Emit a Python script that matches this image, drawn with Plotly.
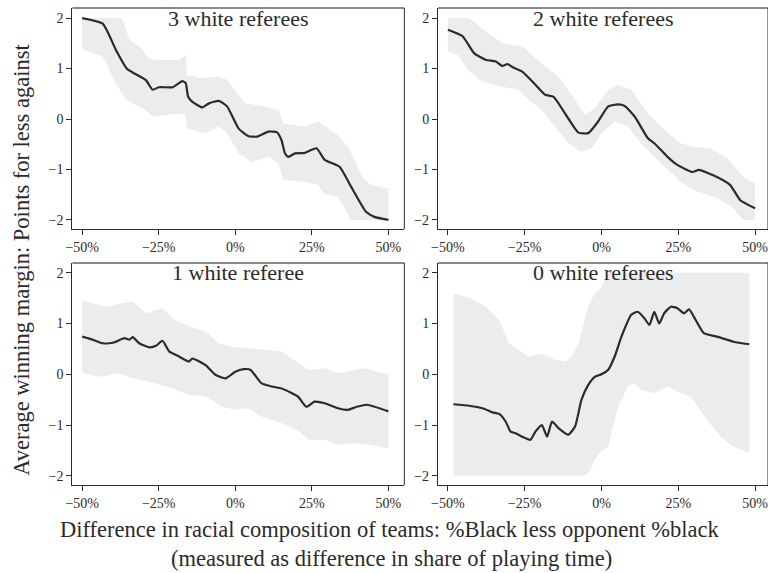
import plotly.graph_objects as go

# ---------------- data ----------------
panel_titles = ["3 white referees", "2 white referees", "1 white referee", "0 white referees"]
x_ticks = [-50, -25, 0, 25, 50]
y_ticks = [-2, -1, 0, 1, 2]

# 3 white referees
w3_x = [-50, -43.3, -39, -35.3, -29.2, -27, -25, -20.5, -17.3, -16.2, -15.4, -14, -10.8, -8.6, -5.4, -2.7,
        1.1, 4.3, 7, 10.8, 13.5, 15.1, 16.2, 17.3, 19.5, 22.7, 26.5, 29.2, 34.1, 37.8, 42.7, 45.4, 50]
w3_y = [2.0, 1.89, 1.37, 0.99, 0.77, 0.58, 0.63, 0.63, 0.75, 0.71, 0.44, 0.34, 0.23, 0.31, 0.36, 0.25,
        -0.19, -0.34, -0.35, -0.25, -0.26, -0.42, -0.68, -0.75, -0.68, -0.67, -0.58, -0.81, -0.95, -1.34, -1.84, -1.94, -2.0]
w3_up_x = [-50, -37, -34.6, -31.4, -28.1, -25.9, -18.4, -16.2, -15.7, -11.4, -5.4, -2.7, 3.2, 9.7, 14.1, 15.7,
           22.7, 27, 33.5, 36.8, 41.6, 44.3, 50]
w3_up_y = [2.0, 2.0, 1.57, 1.44, 1.2, 1.17, 1.17, 1.27, 0.87, 0.81, 0.84, 0.78, 0.31, 0.25, 0.18, -0.09,
           -0.15, -0.05, -0.32, -0.55, -1.15, -1.31, -1.38]
w3_lo_x = [-50, -43.3, -39, -35.7, -29.2, -27, -18.4, -16.2, -15.7, -9.7, -5.4, -2.7, 1.1, 5.4, 10.8, 14.1,
           15.7, 22.7, 27, 29.2, 33.5, 37.8, 50]
w3_lo_y = [1.38, 1.24, 0.71, 0.38, 0.18, 0.05, 0.11, 0.08, -0.19, -0.28, -0.15, -0.28, -0.68, -0.85, -0.75, -0.88,
           -1.21, -1.25, -1.31, -1.48, -1.54, -2.0, -2.0]

# 2 white referees
w2_x = [-50, -45.2, -41.4, -37.6, -34.4, -32.3, -30.6, -29, -25.8, -21.5, -18.3, -15.6, -10.8, -7.5, -4.3, -1.1,
        2.2, 5.4, 7.5, 10.8, 15.1, 17.2, 21.5, 24.7, 29.6, 31.7, 37.6, 41.9, 45.2, 50]
w2_y = [1.77, 1.64, 1.30, 1.17, 1.14, 1.05, 1.09, 1.03, 0.94, 0.68, 0.48, 0.44, 0.01, -0.27, -0.28, -0.05,
        0.25, 0.29, 0.26, 0.05, -0.38, -0.48, -0.75, -0.91, -1.05, -1.01, -1.15, -1.31, -1.61, -1.77]
w2_up_x = [-50, -43, -39.8, -36.6, -32.3, -25.8, -21.5, -18.3, -14, -8.6, -5.4, -2.2, 2.2, 5.4, 9.7, 15.1,
           20.4, 25.8, 30.1, 35.5, 40.9, 46.2, 50]
w2_up_y = [2.0, 2.0, 1.84, 1.7, 1.5, 1.44, 1.21, 1.04, 0.84, 0.38, 0.08, 0.21, 0.58, 0.68, 0.58, 0.11,
           -0.22, -0.48, -0.55, -0.58, -0.78, -1.15, -1.28]
w2_lo_x = [-50, -46.8, -43, -38.7, -32.3, -26.9, -23.7, -19.4, -15.1, -10.8, -6.5, -3.2, 0, 4.3, 8.6, 12.9,
           17.2, 21.5, 25.8, 30.1, 36.6, 41.9, 46.2, 50]
w2_lo_y = [1.34, 1.27, 0.94, 0.74, 0.64, 0.58, 0.38, 0.18, -0.15, -0.48, -0.65, -0.58, -0.28, -0.05, -0.15, -0.48,
           -0.75, -1.01, -1.25, -1.41, -1.54, -1.71, -2.0, -2.0]

# 1 white referee
w1_x = [-50, -46.5, -43.3, -40, -36.2, -34.6, -33.5, -31.4, -28.1, -25.9, -23.8, -21.6, -18.4, -15.1, -14,
        -9.7, -6.5, -3.2, 0, 2.7, 4.9, 8.6, 11.9, 15.1, 18.4, 20.5, 23.2, 25.9, 29.2, 33.5, 36.8, 39.7, 43, 50]
w1_y = [0.74, 0.68, 0.61, 0.62, 0.71, 0.68, 0.73, 0.61, 0.53, 0.56, 0.66, 0.45, 0.35, 0.25, 0.31,
        0.18, -0.01, -0.08, 0.05, 0.10, 0.09, -0.18, -0.24, -0.28, -0.37, -0.44, -0.64, -0.54, -0.57, -0.67, -0.70, -0.64, -0.60, -0.73]
w1_up_x = [-50, -42.2, -36.8, -33.5, -29.2, -23.8, -20.5, -15.1, -9.7, -5.4, -1.1, 4.3, 9.7, 15.1, 20.5, 23.8,
           29.2, 33.5, 42.2, 50]
w1_up_y = [1.45, 1.33, 1.40, 1.43, 1.2, 1.3, 1.1, 0.94, 0.84, 0.61, 0.54, 0.51, 0.48, 0.45, 0.22, 0.09,
           0.12, 0.02, 0.12, -0.01]
w1_lo_x = [-50, -44.3, -37.8, -33.5, -25.9, -20.5, -15.1, -9.7, -4.3, 0, 4.3, 8.6, 15.1, 20.5, 23.8, 29.2,
           33.5, 38.9, 44.3, 50]
w1_lo_y = [0.02, -0.05, 0.02, -0.08, -0.18, -0.28, -0.41, -0.44, -0.64, -0.7, -0.67, -0.83, -0.96, -1.1, -1.29, -1.29,
           -1.39, -1.36, -1.39, -1.46]

# 0 white referees
w0_x = [-48.2, -43, -38.7, -35.5, -33.3, -31.2, -29.6, -28, -25.8, -23.1, -21.5, -19.4, -17.7, -16.1, -14, -10.8,
        -8.6, -6.5, -4.3, -2.2, 0, 2.2, 4.3, 6.5, 9.7, 11.8, 14, 15.6, 17.2, 18.8, 20.4, 22.6, 24.7, 26.9, 28.5,
        30.1, 33.3, 37.6, 43, 48.1]
w0_y = [-0.59, -0.62, -0.67, -0.75, -0.78, -0.93, -1.13, -1.16, -1.23, -1.29, -1.13, -1.0, -1.23, -0.93, -1.06, -1.19,
        -1.03, -0.5, -0.21, -0.05, 0, 0.09, 0.35, 0.74, 1.17, 1.23, 1.1, 0.97, 1.23, 1.0, 1.2, 1.33, 1.3, 1.2, 1.28,
        1.13, 0.81, 0.74, 0.64, 0.59]
w0_up_x = [-48.2, -43, -37.6, -33.3, -30.1, -28, -23.7, -19.4, -15.1, -11.8, -9.7, -7.5, -4.3, -2.2, 0, 2.2, 48.1]
w0_up_y = [1.6, 1.5, 1.33, 1.07, 0.61, 0.51, 0.35, 0.41, 0.28, 0.25, 0.35, 0.61, 1.33, 1.6, 1.72, 2.0, 2.0]
w0_lo_x = [-48.2, -5.4, -3.8, -2.2, 0, 2.2, 5.4, 8.6, 10.8, 12.9, 17.2, 21.5, 25.8, 29, 31.2, 34.4, 38.7, 43, 48.1]
w0_lo_y = [-2.0, -2.0, -1.9, -1.69, -1.52, -1.42, -0.64, -0.24, -0.18, -0.31, -0.37, -0.24, -0.37, -0.44, -0.64, -0.9,
           -1.23, -1.42, -1.55]

panels = [
    (w3_x, w3_y, w3_up_x, w3_up_y, w3_lo_x, w3_lo_y),
    (w2_x, w2_y, w2_up_x, w2_up_y, w2_lo_x, w2_lo_y),
    (w1_x, w1_y, w1_up_x, w1_up_y, w1_lo_x, w1_lo_y),
    (w0_x, w0_y, w0_up_x, w0_up_y, w0_lo_x, w0_lo_y),
]

# ---------------- layout ----------------
W, H = 768, 573
FONT = "Liberation Serif, Times New Roman, serif"
DARK = "#2b2b2b"
BAND = "#ebecec"

# plot areas in pixels (left, right, top, bottom)
boxes = [(66, 401, 8, 229), (435, 768, 8, 229), (66, 401, 263, 485), (435, 768, 263, 485)]
xranges = [(-53.2, 55.2), (-53.2, 54.2), (-53.2, 55.2), (-53.2, 54.2)]
yranges = [(-2.18, 2.2), (-2.18, 2.2), (-2.18, 2.19), (-2.18, 2.19)]

fig = go.Figure()
layout = dict(
    width=W, height=H,
    margin=dict(l=0, r=0, t=0, b=0),
    paper_bgcolor="white", plot_bgcolor="white",
    showlegend=False,
    font=dict(family=FONT, color=DARK, size=14),
)

annotations = []
shapes = []
for i, (px, py, ux, uy, lx, ly) in enumerate(panels):
    n = "" if i == 0 else str(i + 1)
    xa, ya = "x" + n, "y" + n
    l, r, t, b = boxes[i]
    layout["xaxis" + n] = dict(
        domain=[l / W, min(r / W, 1.0)], anchor=ya, range=list(xranges[i]),
        tickvals=x_ticks, ticktext=[("\u2212" if v < 0 else "") + f"{abs(v)}%" for v in x_ticks],
        ticks="outside", ticklen=5, tickwidth=1, tickcolor=DARK, ticklabeloverflow="allow",
        showline=True, linecolor=DARK, linewidth=1.2, showgrid=False, zeroline=False,
        tickfont=dict(family=FONT, size=14, color=DARK),
    )
    layout["yaxis" + n] = dict(
        domain=[(H - b) / H, (H - t) / H], anchor=xa, range=list(yranges[i]),
        tickvals=y_ticks, ticktext=[("\u2212" if v < 0 else "") + str(abs(v)) for v in y_ticks],
        ticks="outside", ticklen=5, tickwidth=1, tickcolor=DARK, ticklabeloverflow="allow",
        showline=True, linecolor=DARK, linewidth=1.2, showgrid=False, zeroline=False,
        tickfont=dict(family=FONT, size=14, color=DARK),
    )
    # confidence band polygon
    fig.add_trace(go.Scatter(
        x=list(ux) + list(lx)[::-1], y=list(uy) + list(ly)[::-1],
        fill="toself", fillcolor=BAND, line=dict(width=0), mode="lines",
        hoverinfo="skip", xaxis=xa, yaxis=ya,
    ))
    fig.add_trace(go.Scatter(
        x=px, y=py, mode="lines", line=dict(color=DARK, width=2.2, shape="spline", smoothing=0.5),
        xaxis=xa, yaxis=ya,
    ))
    annotations.append(dict(
        text=panel_titles[i], xref=xa + " domain", yref=ya, x=0.5, y=2.0,
        xanchor="center", yanchor="middle", showarrow=False,
        font=dict(family=FONT, size=22, color=DARK),
    ))
    # frame: top (gray) and right (dark)
    shapes.append(dict(type="line", xref=xa + " domain", yref=ya + " domain",
                       x0=0, x1=1, y0=1, y1=1, line=dict(color="#8a8a8a", width=2)))
    shapes.append(dict(type="line", xref=xa + " domain", yref=ya + " domain",
                       x0=1, x1=1, y0=0, y1=1, line=dict(color=DARK, width=1)))

annotations.append(dict(
    text="Average winning margin: Points for less against", textangle=-90,
    xref="paper", yref="paper", x=14 / W, y=1 - 260 / H, xanchor="center", yanchor="middle",
    showarrow=False, font=dict(family=FONT, size=22.5, color=DARK),
))
annotations.append(dict(
    text="Difference in racial composition of teams: %Black less opponent %black",
    xref="paper", yref="paper", x=387 / W, y=1 - 529 / H, xanchor="center", yanchor="middle",
    showarrow=False, font=dict(family=FONT, size=22.5, color=DARK),
))
annotations.append(dict(
    text="(measured as difference in share of playing time)",
    xref="paper", yref="paper", x=388 / W, y=1 - 558 / H, xanchor="center", yanchor="middle",
    showarrow=False, font=dict(family=FONT, size=22.5, color=DARK),
))
layout["annotations"] = annotations
layout["shapes"] = shapes
fig.update_layout(**layout)

fig.write_html("out.html", config={"displayModeBar": False},
               post_script="document.body.style.margin='0';document.body.style.overflow='hidden';")
